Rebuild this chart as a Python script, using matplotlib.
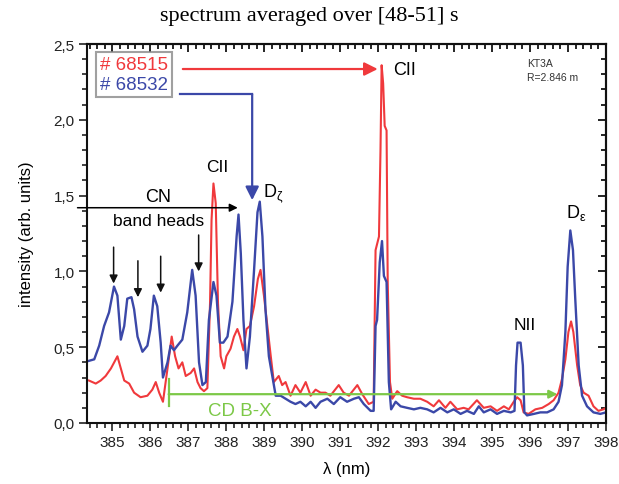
import numpy as np
import matplotlib
matplotlib.use("Agg")
import matplotlib.pyplot as plt
from matplotlib.ticker import MultipleLocator, FuncFormatter

plt.rcParams['font.family'] = ['Liberation Sans', 'DejaVu Sans']

# ---- datos ----
lam_68532 = [384.38, 384.52, 384.65, 384.78, 384.91, 385.04, 385.13, 385.22, 385.31, 385.39,
             385.50, 385.57, 385.66, 385.79, 385.92, 386.00, 386.09, 386.18, 386.27, 386.33,
             386.45, 386.53, 386.62, 386.71, 386.84, 386.97, 387.10, 387.19, 387.28, 387.37,
             387.46, 387.54, 387.66, 387.74, 387.83, 387.92, 388.03, 388.16, 388.27, 388.32,
             388.38, 388.45, 388.53, 388.62, 388.73, 388.82, 388.88, 388.95, 389.03, 389.12,
             389.21, 389.30, 389.43, 389.56, 389.69, 389.82, 389.95, 390.09, 390.22, 390.35,
             390.48, 390.66, 390.83, 391.00, 391.18, 391.36, 391.49, 391.62, 391.80, 391.88,
             391.93, 391.97, 392.04, 392.10, 392.15, 392.22, 392.28, 392.34, 392.46, 392.59,
             392.76, 392.94, 393.11, 393.29, 393.46, 393.64, 393.82, 393.99, 394.17, 394.34,
             394.52, 394.65, 394.78, 394.96, 395.13, 395.31, 395.49, 395.59, 395.63, 395.67,
             395.75, 395.81, 395.85, 395.92, 396.10, 396.27, 396.45, 396.62, 396.75, 396.84,
             396.93, 396.99, 397.06, 397.13, 397.19, 397.28, 397.37, 397.50, 397.67, 397.85,
             398.00]
int_68532 = [0.41, 0.42, 0.51, 0.64, 0.73, 0.90, 0.84, 0.55, 0.64, 0.82,
             0.83, 0.75, 0.57, 0.47, 0.51, 0.62, 0.84, 0.77, 0.53, 0.30,
             0.40, 0.51, 0.48, 0.51, 0.55, 0.73, 1.01, 0.84, 0.40, 0.25,
             0.27, 0.68, 0.93, 0.84, 0.53, 0.53, 0.57, 0.80, 1.23, 1.375,
             1.12, 0.68, 0.36, 0.57, 1.01, 1.39, 1.46, 1.23, 0.75, 0.44,
             0.31, 0.18, 0.18, 0.16, 0.14, 0.125, 0.14, 0.11, 0.14, 0.10,
             0.14, 0.16, 0.125, 0.17, 0.14, 0.16, 0.17, 0.125, 0.08, 0.08,
             0.64, 0.68, 1.06, 1.20, 0.97, 0.93, 0.27, 0.09, 0.14, 0.11,
             0.10, 0.09, 0.10, 0.09, 0.07, 0.10, 0.07, 0.09, 0.06, 0.08,
             0.06, 0.11, 0.07, 0.09, 0.06, 0.08, 0.07, 0.08, 0.38, 0.53,
             0.53, 0.38, 0.07, 0.05, 0.06, 0.07, 0.07, 0.09, 0.14, 0.25,
             0.60, 1.03, 1.27, 1.14, 0.82, 0.38, 0.18, 0.11, 0.07, 0.06,
             0.07]

lam_68515 = [384.38, 384.56, 384.69, 384.82, 384.96, 385.13, 385.22, 385.31, 385.44, 385.57,
             385.74, 385.92, 386.05, 386.14, 386.23, 386.33, 386.45, 386.56, 386.65, 386.74,
             386.84, 386.93, 387.06, 387.15, 387.24, 387.32, 387.41, 387.50, 387.57, 387.61,
             387.66, 387.72, 387.78, 387.85, 387.94, 388.00, 388.11, 388.20, 388.29, 388.36,
             388.45, 388.53, 388.62, 388.73, 388.83, 388.90, 388.99, 389.08, 389.17, 389.25,
             389.38, 389.47, 389.56, 389.69, 389.82, 389.95, 390.09, 390.22, 390.35, 390.48,
             390.61, 390.74, 390.96, 391.09, 391.23, 391.45, 391.58, 391.75, 391.88, 391.93,
             392.02, 392.06, 392.09, 392.13, 392.17, 392.22, 392.25, 392.31, 392.37, 392.50,
             392.63, 392.76, 392.94, 393.11, 393.29, 393.46, 393.60, 393.77, 393.90, 394.08,
             394.25, 394.38, 394.60, 394.78, 394.96, 395.13, 395.31, 395.44, 395.57, 395.66,
             395.75, 395.83, 395.96, 396.14, 396.32, 396.49, 396.62, 396.75, 396.84, 396.93,
             397.01, 397.08, 397.14, 397.24, 397.32, 397.41, 397.54, 397.67, 397.80, 397.93,
             398.00]
int_68515 = [0.28, 0.26, 0.28, 0.31, 0.36, 0.44, 0.36, 0.28, 0.26, 0.20,
             0.17, 0.18, 0.22, 0.27, 0.20, 0.14, 0.36, 0.57, 0.44, 0.36,
             0.40, 0.31, 0.33, 0.36, 0.27, 0.23, 0.21, 0.23, 0.79, 1.34,
             1.58, 1.45, 0.79, 0.44, 0.36, 0.44, 0.49, 0.57, 0.62, 0.57,
             0.48, 0.62, 0.64, 0.77, 0.95, 1.01, 0.84, 0.64, 0.44, 0.27,
             0.31, 0.25, 0.27, 0.18, 0.25, 0.20, 0.27, 0.18, 0.22, 0.20,
             0.20, 0.18, 0.25, 0.20, 0.18, 0.25, 0.19, 0.125, 0.14, 1.14,
             1.23, 1.80, 2.36, 2.24, 1.96, 1.93, 0.93, 0.27, 0.16, 0.21,
             0.18, 0.17, 0.16, 0.16, 0.14, 0.11, 0.15, 0.10, 0.14, 0.09,
             0.10, 0.09, 0.15, 0.10, 0.11, 0.08, 0.11, 0.09, 0.14, 0.17,
             0.15, 0.07, 0.06, 0.09, 0.10, 0.125, 0.15, 0.20, 0.29, 0.42,
             0.60, 0.67, 0.60, 0.38, 0.25, 0.20, 0.18, 0.11, 0.08, 0.09,
             0.10]

# bandas CN (posiciones de las flechas)
cn_heads = [385.03, 385.67, 386.27, 387.27]
cn_tops = [1.16, 1.07, 1.10, 1.24]

rojo = "#f0393c"
azul = "#3b48a8"
verde = "#7cc847"

fig = plt.figure(figsize=(6.19, 4.85), dpi=100)
ax = fig.add_axes([0.1406, 0.1258, 0.8384, 0.7814])

ax.plot(lam_68515, int_68515, color=rojo, lw=1.5, label="# 68515")
ax.plot(lam_68532, int_68532, color=azul, lw=1.7, label="# 68532")

ax.set_xlim(384.33, 398.0)
ax.set_ylim(0, 2.5)

ax.xaxis.set_major_locator(MultipleLocator(1))
ax.xaxis.set_minor_locator(MultipleLocator(0.2))
ax.yaxis.set_major_locator(MultipleLocator(0.5))
ax.yaxis.set_minor_locator(MultipleLocator(0.1))
ax.yaxis.set_major_formatter(FuncFormatter(lambda v, p: f"{v:.1f}".replace(".", ",")))
ax.xaxis.set_major_formatter(FuncFormatter(lambda v, p: f"{v:.0f}"))

ax.tick_params(which="both", direction="out", top=False, right=False, width=1.2, colors="#222222")
ax.tick_params(which="major", length=6, labelsize=11, pad=3)
ax.tick_params(which="minor", length=3.5)
# ticks interiores arriba y derecha
axt = ax.secondary_xaxis("top")
axt.xaxis.set_major_locator(MultipleLocator(1))
axt.xaxis.set_minor_locator(MultipleLocator(0.2))
axt.tick_params(which="both", direction="in", labeltop=False, width=1.2)
axt.tick_params(which="major", length=6)
axt.tick_params(which="minor", length=3.5)
axr = ax.secondary_yaxis("right")
axr.yaxis.set_major_locator(MultipleLocator(0.5))
axr.yaxis.set_minor_locator(MultipleLocator(0.1))
axr.tick_params(which="both", direction="in", labelright=False, width=1.2)
axr.tick_params(which="major", length=6)
axr.tick_params(which="minor", length=3.5)
for sp in list(ax.spines.values()) + [axt.spines["top"], axr.spines["right"]]:
    sp.set_linewidth(1.5)
    sp.set_color("#111111")

ax.set_xlabel("λ (nm)", fontsize=12, labelpad=8)
ax.set_ylabel("intensity (arb. units)", fontsize=12, labelpad=14)
fig.text(0.5, 0.965, "spectrum averaged over [48-51] s", ha="center", va="center",
         fontsize=16, family=["Liberation Serif", "DejaVu Serif"])

leg = ax.legend(loc="upper left", bbox_to_anchor=(0.018, 0.978), handlelength=0,
                handletextpad=0, labelcolor="linecolor", fontsize=13.5, frameon=True,
                fancybox=False, borderpad=0.2, labelspacing=0.15, borderaxespad=0)
for h in leg.legend_handles:
    h.set_visible(False)
leg.get_frame().set_edgecolor("#888888")
leg.get_frame().set_linewidth(1.5)

# flecha roja hacia CII
ax.annotate("", xy=(392.06, 2.335), xytext=(386.78, 2.335),
            arrowprops=dict(arrowstyle="-|>", color=rojo, lw=1.6, mutation_scale=20))
ax.text(392.4, 2.335, "CII", fontsize=13, va="center", ha="left")

# flecha azul hacia D_zeta
ax.plot([386.78, 388.68], [2.17, 2.17], color=azul, lw=1.6)
ax.annotate("", xy=(388.68, 1.47), xytext=(388.68, 2.17),
            arrowprops=dict(arrowstyle="-|>", color=azul, lw=1.6, mutation_scale=20,
                            shrinkA=0, shrinkB=0))
ax.text(388.97, 1.52, r"D$_\mathregular{\zeta}$", fontsize=13, va="center", ha="left")

ax.text(387.75, 1.69, "CII", fontsize=12.5, ha="center", va="center")
ax.text(395.85, 0.65, "NII", fontsize=12.5, ha="center", va="center")
ax.text(396.95, 1.39, r"D$_\mathregular{\varepsilon}$", fontsize=13, ha="left", va="center")

ax.text(395.93, 2.375, "KT3A", fontsize=7.5, color="#333333", va="center")
ax.text(395.93, 2.285, "R=2.846 m", fontsize=7.5, color="#333333", va="center")

# CN band heads
ax.annotate("", xy=(388.3, 1.42), xytext=(384.08, 1.42), annotation_clip=False,
            arrowprops=dict(arrowstyle="-|>", color="black", lw=1.1, mutation_scale=12,
                            shrinkA=0, shrinkB=0))
ax.text(386.2, 1.495, "CN", fontsize=13, ha="center", va="center")
ax.text(386.22, 1.335, "band heads", fontsize=12.5, ha="center", va="center",
        bbox=dict(facecolor="white", edgecolor="none", pad=0.5))
for xh, yt in zip(cn_heads, cn_tops):
    ax.annotate("", xy=(xh, yt - 0.24), xytext=(xh, yt),
                arrowprops=dict(arrowstyle="-|>", color="#111111", lw=1.1,
                                mutation_scale=12, shrinkA=0, shrinkB=0))

# CD B-X
ax.plot([386.48, 386.48], [0.11, 0.29], color=verde, lw=1.6)
ax.annotate("", xy=(396.72, 0.19), xytext=(386.48, 0.19),
            arrowprops=dict(arrowstyle="-|>", color=verde, lw=1.6, mutation_scale=12,
                            shrinkA=0, shrinkB=0))
ax.text(388.35, 0.08, "CD B-X", fontsize=13.5, color=verde, ha="center", va="center")

fig.savefig("out.png", dpi=100)
